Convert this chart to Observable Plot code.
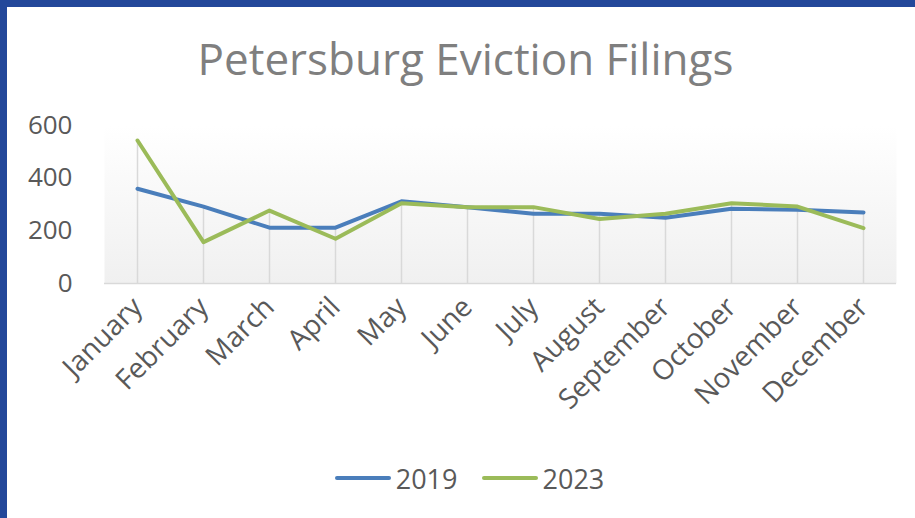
<!DOCTYPE html>
<html><head><meta charset="utf-8">
<script src="https://cdn.jsdelivr.net/npm/d3@7"></script>
<script src="https://cdn.jsdelivr.net/npm/@observablehq/plot@0.6"></script>
<style>
body{margin:0;background:#fff;}
#wrap{position:relative;width:915px;height:518px;overflow:hidden;background:#fff;font-family:"Open Sans",sans-serif;}
#bl{position:absolute;left:0;top:0;width:7px;height:518px;background:#23489a;z-index:5;}
#bt{position:absolute;left:0;top:0;width:915px;height:7px;background:#23489a;z-index:5;}
#title{position:absolute;left:8px;width:915px;top:28px;line-height:60px;text-align:center;font-size:44px;color:#7f7f7f;white-space:nowrap;}
#chart{position:absolute;left:0;top:0;}
#legend{position:absolute;left:12px;width:915px;top:460px;height:36px;display:flex;justify-content:center;align-items:center;font-size:27px;color:#595959;}
.item{display:flex;align-items:center;margin:0 12px;}
.item svg{margin-right:5px;}
</style></head>
<body>
<div id="wrap">
  <div id="bl"></div><div id="bt"></div>
  <div id="title">Petersburg Eviction Filings</div>
  <div id="chart"></div>
  <div id="legend"></div>
</div>
<script>
const months = ["January","February","March","April","May","June","July","August","September","October","November","December"];
const seriesNames = ["2019","2023"];
const v2019 = [360, 292, 212, 212, 312, 290, 265, 265, 250, 284, 280, 270];
const v2023 = [543, 157, 277, 170, 305, 290, 290, 245, 265, 305, 292, 210];
const seriesColors = ["#4a7ebb", "#9bbb59"];
const yTicks = [0, 200, 400, 600];

const rows = [];
months.forEach((m, i) => {
  rows.push({month: m, series: "2019", value: v2019[i]});
  rows.push({month: m, series: "2023", value: v2023[i]});
});
const drops = months.map((m, i) => ({month: m, top: Math.max(v2019[i], v2023[i])}));

const chart = Plot.plot({
  width: 915,
  height: 440,
  marginLeft: 104,
  marginRight: 19,
  marginTop: 125,
  marginBottom: 157,
  style: {fontFamily: "'Open Sans', sans-serif", fontSize: "26px", color: "#595959", background: "transparent", overflow: "visible"},
  x: {type: "point", domain: months, padding: 0.5, tickSize: 0, tickRotate: -45, tickPadding: 19, label: null},
  y: {domain: [0, 600], ticks: yTicks, tickSize: 0, tickPadding: 32, label: null},
  color: {domain: seriesNames, range: seriesColors},
  marks: [
    Plot.frame({fill: "url(#bg)", stroke: "none"}),
    Plot.ruleX(drops, {x: "month", y1: 0, y2: "top", stroke: "#d9d9d9", strokeWidth: 1.5}),
    Plot.ruleY([0], {stroke: "#d9d9d9", strokeWidth: 1.5}),
    Plot.line(rows, {x: "month", y: "value", z: "series", stroke: "series", strokeWidth: 4, strokeLinejoin: "round", strokeLinecap: "round"})
  ]
});
const svg = d3.select(chart);
const defs = svg.insert("defs", ":first-child");
const g = defs.append("linearGradient").attr("id", "bg").attr("x1", 0).attr("y1", 0).attr("x2", 0).attr("y2", 1);
g.append("stop").attr("offset", "0%").attr("stop-color", "#ffffff");
g.append("stop").attr("offset", "100%").attr("stop-color", "#f0f0f0");
svg.selectAll('[aria-label^="x-axis"]').attr("font-size", "28px");
document.getElementById("chart").appendChild(chart);

const legend = d3.select("#legend");
seriesNames.forEach((s, i) => {
  const it = legend.append("div").attr("class", "item");
  const sw = it.append("svg").attr("width", 56).attr("height", 8);
  sw.append("line").attr("x1", 2).attr("x2", 54).attr("y1", 4).attr("y2", 4)
    .attr("stroke", seriesColors[i]).attr("stroke-width", 4).attr("stroke-linecap", "round");
  it.append("span").text(s);
});
</script>
</body></html>
